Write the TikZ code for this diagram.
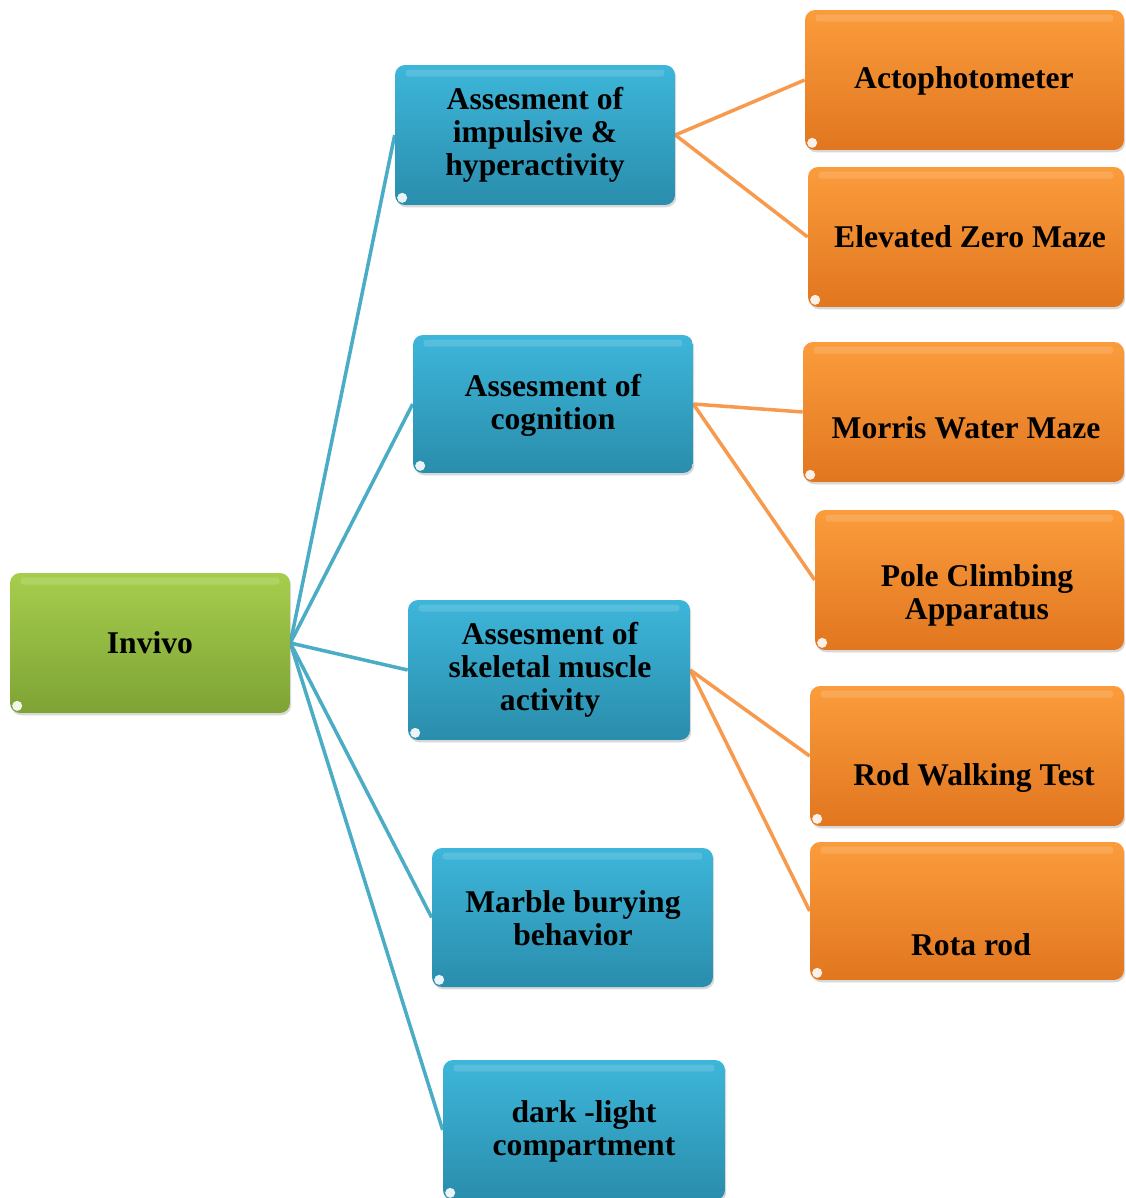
\documentclass[tikz,border=0pt]{standalone}
\usepackage{fontspec}
\setmainfont{Liberation Serif}
\usetikzlibrary{shadows,backgrounds}

\definecolor{grtop}{HTML}{A6CE4C}
\definecolor{grbot}{HTML}{7EA335}
\definecolor{bltop}{HTML}{3DB6DA}
\definecolor{blbot}{HTML}{2A8DAC}
\definecolor{ortop}{HTML}{FB9C3C}
\definecolor{orbot}{HTML}{E1761F}
\definecolor{lnblue}{HTML}{4BACC6}
\definecolor{lnorange}{HTML}{F79A4E}

\tikzset{
  box/.style={rounded corners=0.2cm, draw=none, inner sep=0pt,
    drop shadow={opacity=0.3, shadow xshift=0.7pt, shadow yshift=-1.3pt}},
  greenbox/.style={box, top color=grtop, bottom color=grbot},
  bluebox/.style={box, top color=bltop, bottom color=blbot},
  orangebox/.style={box, top color=ortop, bottom color=orbot},
  lbl/.style={font=\fontsize{18}{18.8}\selectfont\bfseries, align=center, text=black, inner sep=0pt},
  blueline/.style={draw=lnblue, line width=2pt},
  orangeline/.style={draw=lnorange, line width=2pt},
}

\begin{document}
\begin{tikzpicture}[x=0.02cm, y=-0.02cm]
  \clip (0,0) rectangle (1126,1198);

  % root
  \node[greenbox, minimum width=5.6cm, minimum height=2.8cm] (root) at (150,643) {};
  \node[lbl] (roott) at (150,643) {Invivo};

  % assessment categories
  \node[bluebox, minimum width=5.6cm, minimum height=2.8cm] (b1) at (535,135) {};
  \node[lbl] (b1t) at (535,135) {Assesment of\\impulsive \&\\hyperactivity};
  \node[bluebox, minimum width=5.6cm, minimum height=2.76cm] (b2) at (553,404) {};
  \node[lbl] (b2t) at (553,405) {Assesment of\\cognition};
  \node[bluebox, minimum width=5.64cm, minimum height=2.8cm] (b3) at (549,670) {};
  \node[lbl] (b3t) at (550,670) {Assesment of\\skeletal muscle\\activity};
  \node[bluebox, minimum width=5.62cm, minimum height=2.78cm] (b4) at (572.5,917.5) {};
  \node[lbl] (b4t) at (573,918) {Marble burying\\behavior};
  \node[bluebox, minimum width=5.64cm, minimum height=2.8cm] (b5) at (584,1130) {};
  \node[lbl] (b5t) at (584,1131) {dark -light\\compartment};

  % tests
  \node[orangebox, minimum width=6.38cm, minimum height=2.8cm] (o1) at (964.5,80) {};
  \node[lbl] (o1t) at (964,81) {Actophotometer};
  \node[orangebox, minimum width=6.32cm, minimum height=2.8cm] (o2) at (966,237) {};
  \node[lbl] (o2t) at (970,237) {Elevated Zero Maze};
  \node[orangebox, minimum width=6.42cm, minimum height=2.8cm] (o3) at (963.5,412) {};
  \node[lbl] (o3t) at (966,428) {Morris Water Maze};
  \node[orangebox, minimum width=6.18cm, minimum height=2.8cm] (o4) at (969.5,580) {};
  \node[lbl] (o4t) at (977,595) {Pole Climbing\\Apparatus};
  \node[orangebox, minimum width=6.28cm, minimum height=2.8cm] (o5) at (967,756) {};
  \node[lbl] (o5t) at (974,778) {Rod Walking Test};
  \node[orangebox, minimum width=6.28cm, minimum height=2.76cm] (o6) at (967,911) {};
  \node[lbl] (o6t) at (971,945) {Rota rod};

  % gloss strip and corner highlight on every box
  \foreach \n in {root,b1,b2,b3,b4,b5,o1,o2,o3,o4,o5,o6} {
    \fill[white, opacity=0.14, rounded corners=1.5pt]
      ([shift={(0.22cm,-0.1cm)}]\n.north west) rectangle ([shift={(-0.22cm,-0.24cm)}]\n.north east);
    \fill[white, opacity=0.9]
      ([shift={(0.15cm,0.15cm)}]\n.south west) circle[radius=0.1cm];
  }

  % page and connectors, behind the boxes
  \begin{scope}[on background layer]
    \fill[white] (0,0) rectangle (1126,1198);
    \foreach \b in {b1,b2,b3,b4,b5}
      \draw[blueline] (root.east) -- (\b.west);
    \draw[orangeline] (b1.east) -- (o1.west);
    \draw[orangeline] (b1.east) -- (o2.west);
    \draw[orangeline] (b2.east) -- (o3.west);
    \draw[orangeline] (b2.east) -- (o4.west);
    \draw[orangeline] (b3.east) -- (o5.west);
    \draw[orangeline] (b3.east) -- (o6.west);
  \end{scope}
\end{tikzpicture}
\end{document}
